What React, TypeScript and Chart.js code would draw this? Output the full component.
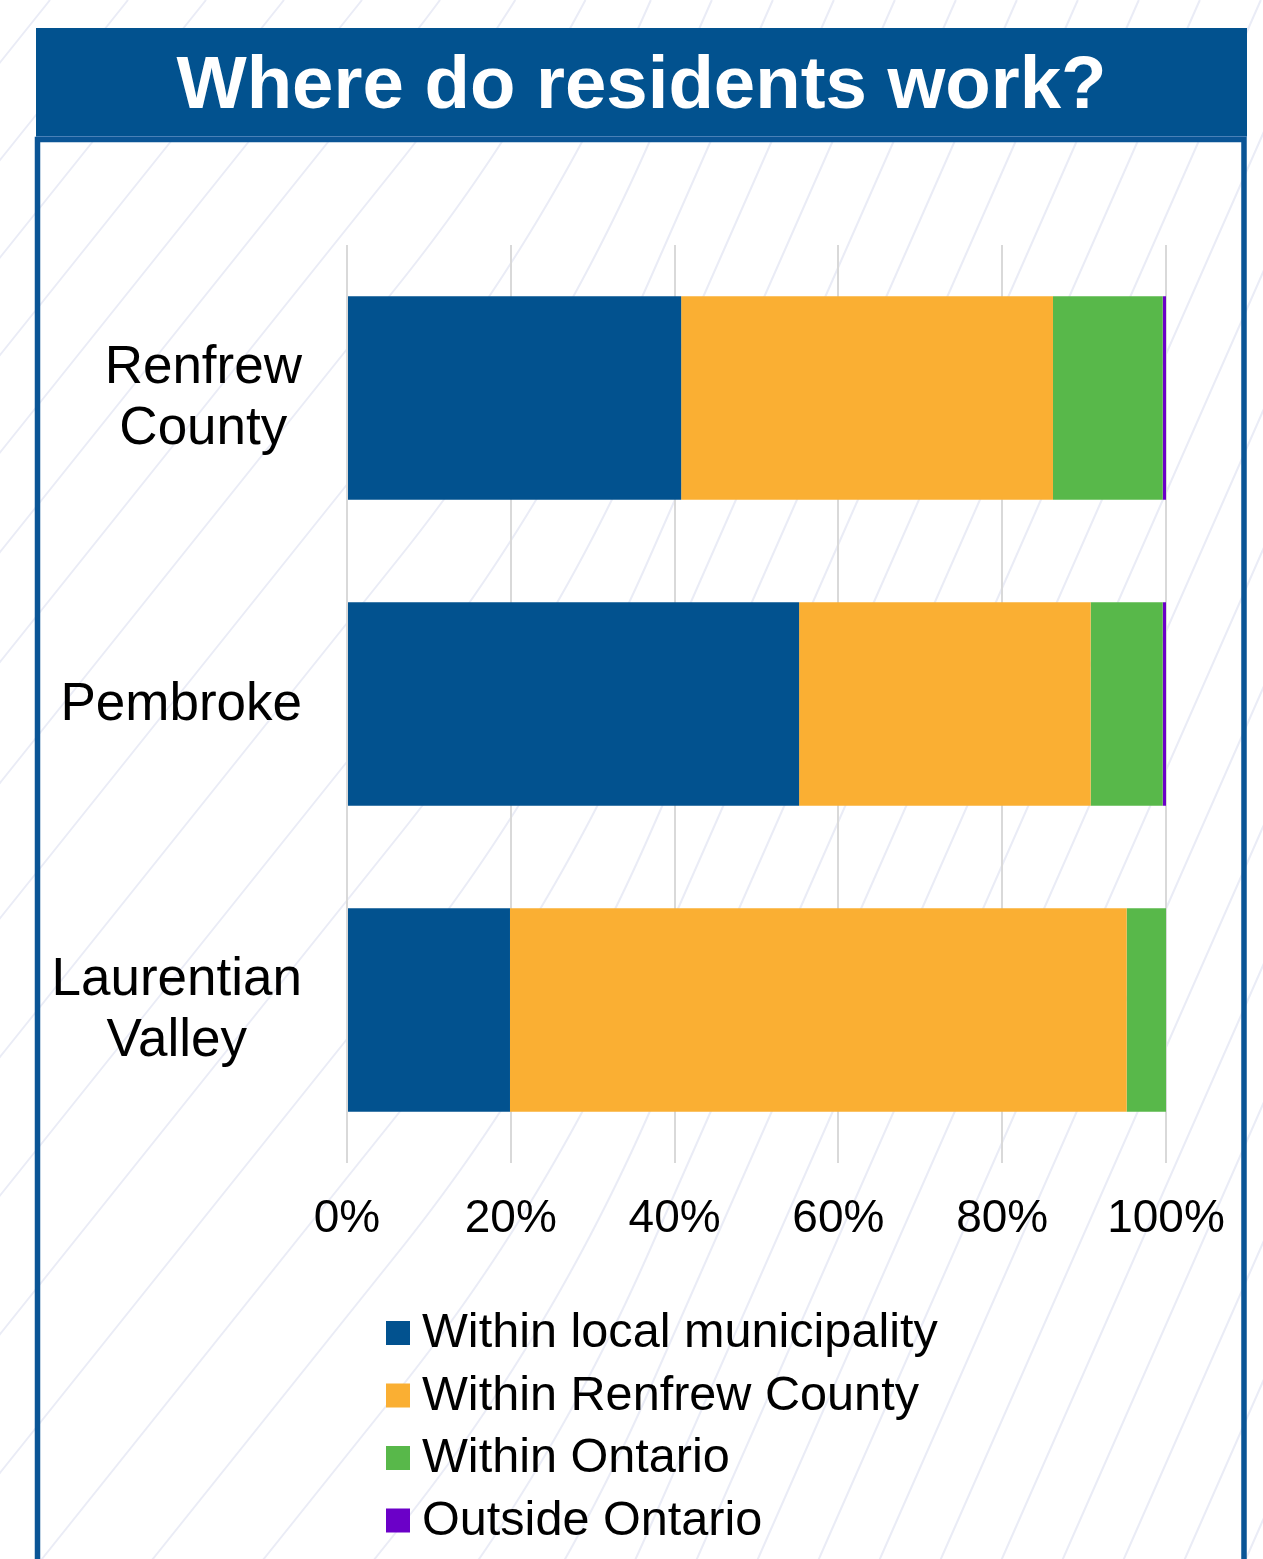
import { useEffect, useRef } from "react";
import { Chart, registerables } from "chart.js";

Chart.register(...registerables);

const W = 1263;
const H = 1559;
const FONT = "'Liberation Sans', Arial, Helvetica, sans-serif";

// Chart content
const title = "Where do residents work?";
const categories = [["Renfrew", "County"], ["Pembroke"], ["Laurentian", "Valley"]];
const seriesNames = [
  "Within local municipality",
  "Within Renfrew County",
  "Within Ontario",
  "Outside Ontario",
];
const localMunicipality = [40.8, 55.2, 19.9];
const renfrewCounty = [45.4, 35.6, 75.3];
const withinOntario = [13.4, 8.8, 4.8];
const outsideOntario = [0.4, 0.4, 0];
const xTicks = [0, 20, 40, 60, 80, 100];

const seriesColors = ["#02528F", "#FAAF33", "#58B84A", "#6B00C8"];
const BRAND_BLUE = "#02528F";

// slope of the background hatch (horizontal run per unit of vertical drop)
const hatchSlope = (x: number) =>
  x <= 400 ? 0.8 : x >= 650 ? 0.44 : 0.8 - (0.36 * (x - 400)) / 250;
const hatchGap = (x: number) => (x <= 400 ? 78 : x >= 650 ? 61 : 78 - (17 * (x - 400)) / 250);

const pageBackground = {
  id: "pageBackground",
  beforeDraw(chart: Chart) {
    const ctx = chart.ctx;
    ctx.save();
    ctx.fillStyle = "#ffffff";
    ctx.fillRect(0, 0, W, H);

    // diagonal hatch
    ctx.strokeStyle = "#eaecf6";
    ctx.lineWidth = 2;
    let sx = -28;
    while (sx < 2100) {
      ctx.beginPath();
      let cx = sx;
      ctx.moveTo(cx, 0);
      for (let y = 0; y < H; y += 4) {
        cx -= hatchSlope(cx) * 4;
        ctx.lineTo(cx, y + 4);
        if (cx < -20) break;
      }
      ctx.stroke();
      sx += hatchGap(sx);
    }

    // heading band
    ctx.fillStyle = BRAND_BLUE;
    ctx.fillRect(36, 28, 1211, 108);
    ctx.fillStyle = "#5f8fc2";
    ctx.fillRect(36, 136, 1211, 1);
    ctx.fillStyle = "#ffffff";
    ctx.font = `bold 74.4px ${FONT}`;
    ctx.textAlign = "center";
    ctx.textBaseline = "alphabetic";
    ctx.fillText(title, 641.5, 108);

    // panel frame
    ctx.strokeStyle = "#0A5596";
    ctx.lineWidth = 5.5;
    ctx.beginPath();
    ctx.moveTo(37.5, H + 10);
    ctx.lineTo(37.5, 139.5);
    ctx.lineTo(1244, 139.5);
    ctx.lineTo(1244, H + 10);
    ctx.stroke();
    ctx.restore();
  },
};

const sideLabelsAndLegend = {
  id: "sideLabelsAndLegend",
  afterDraw(chart: Chart) {
    const ctx = chart.ctx;
    const yScale = chart.scales.y;
    ctx.save();

    // category labels: block right-aligned, lines centred within the block
    ctx.fillStyle = "#000000";
    ctx.font = `53px ${FONT}`;
    ctx.textAlign = "center";
    ctx.textBaseline = "middle";
    categories.forEach((lines, i) => {
      const cy = yScale.getPixelForValue(i);
      const blockW = Math.max(...lines.map((l) => ctx.measureText(l).width));
      const cx = 302 - blockW / 2;
      lines.forEach((line, j) => {
        ctx.fillText(line, cx, cy + 1 + (j - (lines.length - 1) / 2) * 61);
      });
    });

    // legend, one entry per row
    ctx.font = `48.6px ${FONT}`;
    ctx.textAlign = "left";
    chart.data.datasets.forEach((ds, i) => {
      const cy = 1333 + i * 62.5;
      ctx.fillStyle = ds.backgroundColor as string;
      ctx.fillRect(386, cy - 12, 24, 24);
      ctx.fillStyle = "#000000";
      ctx.fillText(ds.label as string, 422, cy + 1);
    });
    ctx.restore();
  },
};

export default function App() {
  const canvasRef = useRef<HTMLCanvasElement | null>(null);

  useEffect(() => {
    const canvas = canvasRef.current;
    if (!canvas) return;
    const series = [localMunicipality, renfrewCounty, withinOntario, outsideOntario];
    const chart = new Chart(canvas, {
      type: "bar",
      data: {
        labels: categories.map((c) => c.join(" ")),
        datasets: series.map((values, i) => ({
          label: seriesNames[i],
          data: values,
          backgroundColor: seriesColors[i],
          borderWidth: 0,
          categoryPercentage: 1,
          barPercentage: 0.665,
        })),
      },
      options: {
        indexAxis: "y",
        responsive: false,
        animation: false,
        devicePixelRatio: 1,
        layout: { padding: { left: 347, right: 97, top: 245, bottom: 296 } },
        plugins: {
          legend: { display: false },
          tooltip: { enabled: false },
          title: { display: false },
        },
        scales: {
          x: {
            stacked: true,
            min: 0,
            max: 100,
            afterBuildTicks: (scale: any) => {
              scale.ticks = xTicks.map((v) => ({ value: v }));
            },
            afterFit: (scale: any) => {
              scale.height = 100;
            },
            ticks: {
              callback: (v: any) => `${v}%`,
              color: "#000000",
              font: { family: FONT, size: 46 },
              padding: 29,
              maxRotation: 0,
              autoSkip: false,
            },
            grid: { color: "#d9d9d9", lineWidth: 2, drawTicks: false },
            border: { display: false },
          },
          y: {
            stacked: true,
            display: false,
          },
        },
      },
      plugins: [pageBackground, sideLabelsAndLegend],
    });
    return () => chart.destroy();
  }, []);

  return (
    <canvas
      ref={canvasRef}
      width={W}
      height={H}
      style={{ position: "absolute", left: 0, top: 0, width: W, height: H, display: "block" }}
    />
  );
}
